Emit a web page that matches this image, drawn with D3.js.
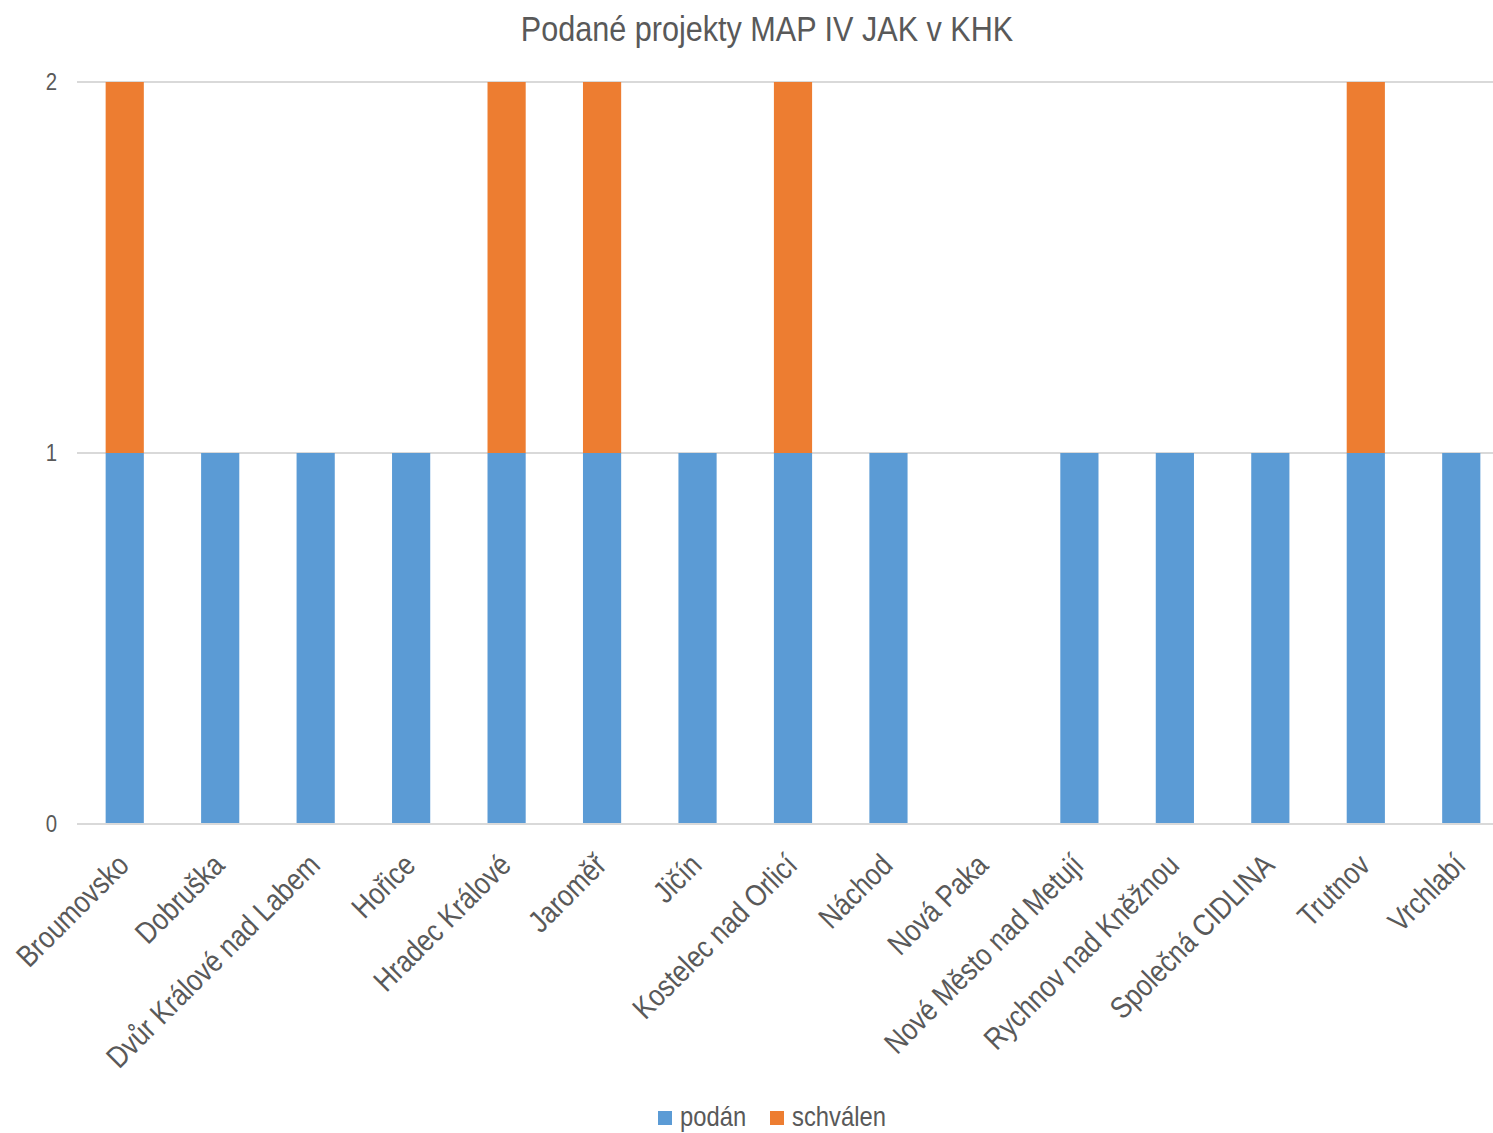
<!DOCTYPE html>
<html>
<head>
<meta charset="utf-8">
<script src="https://cdn.jsdelivr.net/npm/d3@7"></script>
<style>
  body { margin: 0; background: #fff; }
  svg { font-family: "Liberation Sans Narrow", "Arial Narrow", "Liberation Sans", Arial, sans-serif; }
</style>
</head>
<body>
<svg width="1493" height="1133"></svg>
<script>
const categories = ["Broumovsko", "Dobruška", "Dvůr Králové nad Labem", "Hořice", "Hradec Králové",
  "Jaroměř", "Jičín", "Kostelec nad Orlicí", "Náchod", "Nová Paka", "Nové Město nad Metují",
  "Rychnov nad Kněžnou", "Společná CIDLINA", "Trutnov", "Vrchlabí"];
const podan =    [1, 1, 1, 1, 1, 1, 1, 1, 1, 0, 1, 1, 1, 1, 1];
const schvalen = [1, 0, 0, 0, 1, 1, 0, 1, 0, 0, 0, 0, 0, 1, 0];
const seriesNames = ["podán", "schválen"];
const colors = ["#5B9BD5", "#ED7D31"];
const yTicks = [0, 1, 2];

const svg = d3.select("svg");
const width = 1493;
const height = 1133;
const margin = { top: 82, right: -16, bottom: 309, left: 77 };
const narrow = 0.85; // horizontal squeeze to imitate a narrow face

const table = categories.map((c, i) => ({ cat: c, "podán": podan[i], "schválen": schvalen[i] }));
const stacked = d3.stack().keys(seriesNames)(table);

const xScale = d3.scaleBand()
    .domain(categories)
    .range([margin.left, width - margin.right])
    .paddingInner(0.6)
    .paddingOuter(0.3);

const yScale = d3.scaleLinear()
    .domain([0, 2])
    .range([height - margin.bottom, margin.top]);

// gridlines
svg.append("g")
    .selectAll("line")
    .data(yTicks.slice(1))
    .join("line")
    .attr("x1", margin.left)
    .attr("x2", width - margin.right)
    .attr("y1", d => yScale(d))
    .attr("y2", d => yScale(d))
    .attr("stroke", "#d9d9d9")
    .attr("stroke-width", 2);

// bars
svg.append("g")
    .selectAll("g")
    .data(stacked)
    .join("g")
    .attr("fill", (d, i) => colors[i])
    .selectAll("rect")
    .data(d => d)
    .join("rect")
    .attr("x", d => xScale(d.data.cat))
    .attr("width", xScale.bandwidth())
    .attr("y", d => yScale(d[1]))
    .attr("height", d => yScale(d[0]) - yScale(d[1]));

// x axis line
svg.append("line")
    .attr("x1", margin.left)
    .attr("x2", width - margin.right)
    .attr("y1", yScale(0))
    .attr("y2", yScale(0))
    .attr("stroke", "#d9d9d9")
    .attr("stroke-width", 2);

// y axis labels
svg.append("g")
    .selectAll("text")
    .data(yTicks)
    .join("text")
    .attr("transform", d => `translate(57, ${yScale(d) + 8}) scale(${narrow}, 1)`)
    .attr("text-anchor", "end")
    .attr("font-size", 24)
    .attr("fill", "#595959")
    .text(d3.format("d"));

// x labels
svg.append("g")
    .selectAll("text")
    .data(categories)
    .join("text")
    .attr("transform", d => `translate(${xScale(d) + xScale.bandwidth() / 2 + 6}, ${yScale(0) + 43}) rotate(-45) scale(${narrow}, 1)`)
    .attr("text-anchor", "end")
    .attr("font-size", 30.5)
    .attr("fill", "#595959")
    .text(d => d);

// title
svg.append("text")
    .attr("transform", `translate(767, 41) scale(${narrow}, 1)`)
    .attr("text-anchor", "middle")
    .attr("font-size", 36)
    .attr("fill", "#595959")
    .text("Podané projekty MAP IV JAK v KHK");

// legend
const legend = svg.append("g").attr("transform", "translate(658, 1111)");
const items = [{ name: seriesNames[0], x: 0 }, { name: seriesNames[1], x: 112 }];
items.forEach((it, i) => {
  legend.append("rect")
    .attr("x", it.x).attr("y", 0).attr("width", 14).attr("height", 14)
    .attr("fill", colors[i]);
  legend.append("text")
    .attr("transform", `translate(${it.x + 22}, 15) scale(${narrow}, 1)`)
    .attr("font-size", 28)
    .attr("fill", "#595959")
    .text(it.name);
});
</script>
</body>
</html>
